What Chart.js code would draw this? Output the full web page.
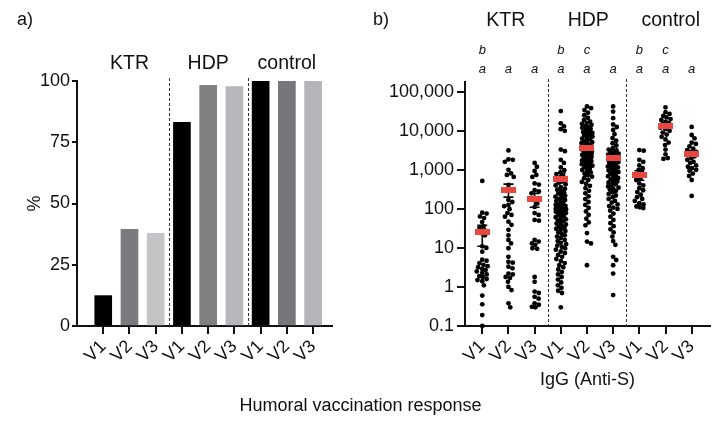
<!DOCTYPE html>
<html>
<head>
<meta charset="utf-8">
<script src="https://cdn.jsdelivr.net/npm/chart.js@4.4.1/dist/chart.umd.min.js"></script>
<style>
  body { margin: 0; background: #fff; font-family: "Liberation Sans", Arial, sans-serif; }
  #wrap { position: relative; width: 721px; height: 426px; overflow: hidden; }
  .box { position: absolute; top: 0; height: 426px; }
  .lbl { position: absolute; font-size: 18px; color: #111; line-height: 21px; white-space: nowrap; }
</style>
</head>
<body>
<div id="wrap">
  <div class="box" style="left:0;width:360px"><canvas id="pctChart"></canvas></div>
  <div class="box" style="left:360px;width:361px"><canvas id="iggChart"></canvas></div>
  <div class="lbl" style="left:17px;top:9px">a)</div>
  <div class="lbl" style="left:373px;top:9px">b)</div>
  <div class="lbl" style="left:0;width:721px;top:395px;text-align:center">Humoral vaccination response</div>
</div>
<script>
// categories
const visits = ['V1', 'V2', 'V3'];
const cohorts = ['KTR', 'HDP', 'control'];

// panel a: % responders
const responsePct = [12.4, 39.5, 37.8, 83.1, 98.2, 97.7, 100, 100, 100];
const pctTicks = [0, 25, 50, 75, 100];

// panel b: IgG (Anti-S) per subject
const ktrV1 = [520, 80, 76, 64, 58, 46, 36, 33, 28, 24, 21, 11, 10, 8, 5, 4.7, 4.1, 3.7, 3.4, 3.2, 2.9, 2.7, 2.5, 2.3, 2.1, 1.9, 1.8, 1.6, 1.5, 1.4, 1.1, 0.6, 0.36, 0.19, 0.1];
const ktrV2 = [3150, 1860, 1800, 1600, 1000, 810, 740, 660, 410, 300, 170, 150, 126, 117, 98, 78, 70, 63, 47, 39, 29, 21, 16, 13, 9.8, 5.9, 4.4, 4.2, 3.3, 3.0, 2.2, 2.1, 1.8, 1.7, 1.35, 1.0, 0.83, 0.38, 0.3];
const ktrV3 = [1500, 1200, 940, 740, 660, 450, 420, 300, 280, 250, 170, 138, 112, 78, 70, 52, 50, 16, 14.5, 13, 12, 9.8, 9.5, 1.8, 1.35, 0.76, 0.7, 0.56, 0.5, 0.38, 0.35, 0.31, 0.3];
const hdpV1 = [32000, 15500, 13000, 11000, 10000, 3300, 3000, 1800, 1500, 1150, 980, 860, 780, 700, 640,
  580, 530, 470, 430, 400, 360, 330, 310,
  290, 265, 250, 232, 218, 205, 192, 181, 170, 158, 150, 141, 133, 127, 120, 114, 109, 104, 101, 98,
  95, 92, 88, 85, 81, 78, 74, 71, 67, 64, 61, 57, 54, 51, 48, 45, 42, 40, 37, 35, 33, 31,
  29, 27, 25, 23, 21, 19.5, 18, 16, 15, 13.5, 12.5, 11.5, 10.5, 9.7,
  9, 8.1, 7.4, 6.6, 5.9, 5.2, 4.6, 4.1, 3.6, 3.2,
  2.8, 2.4, 2.1, 1.8, 1.55, 1.3, 1.1, 0.95, 0.8, 0.7, 0.3];
const hdpV2 = [42000, 38000, 34000, 29000, 25000, 21500, 19000, 17200,
  16000, 15100, 14200, 13300, 12600, 11900, 11200, 10500,
  9800, 9300, 8800, 8400, 7900, 7500, 7100, 6700, 6300, 6000, 5700, 5400, 5100, 4850, 4600, 4400, 4200, 4000, 3850, 3700, 3550, 3420, 3300, 3180, 3060,
  2950, 2830, 2720, 2610, 2500, 2400, 2310, 2220, 2130, 2040, 1960, 1880, 1800, 1730, 1660, 1590, 1520, 1460, 1400, 1340, 1280, 1220, 1170, 1110, 1050,
  990, 920, 860, 790, 730, 670, 610, 550, 490, 440, 390, 340,
  290, 250, 210, 178, 150, 126, 106,
  86, 70, 56, 45, 38, 24, 14.5, 13, 3.6];
const hdpV3 = [42000, 31000, 21000, 14500, 12500, 10500, 8200, 6500, 5600, 4800, 4200, 3600,
  3300, 3150, 3000, 2850, 2700, 2580, 2460, 2340, 2220, 2110, 2000, 1910, 1820, 1730, 1650, 1570, 1490, 1420, 1350, 1280, 1210, 1150, 1090, 1040, 1000,
  960, 920, 880, 840, 800, 760, 720, 690, 650, 620, 590, 560, 530, 500, 475, 450, 425, 400, 375, 350, 330, 310,
  290, 265, 240, 220, 200, 180, 160, 145, 130, 118, 108, 100,
  90, 76, 63, 52, 43, 36, 30,
  25, 19.5, 15, 12, 5.9, 4.9, 3.6, 2.2, 0.62];
const ctrlV1 = [3200, 3100, 1800, 1600, 1300, 1100, 1000, 850, 750, 600, 550, 450, 400, 340, 300, 270, 230, 200, 180, 160, 140, 130, 115, 110, 105];
const ctrlV2 = [40000, 30000, 27000, 24000, 22000, 20000, 19000, 17000, 16000, 15000, 14000, 13000, 12000, 11000, 10000, 9000, 8000, 7000, 6000, 5000, 4300, 3300, 2500, 2000, 1900];
const ctrlV3 = [12600, 7800, 6400, 5000, 4600, 4000, 3500, 3200, 2900, 2700, 2400, 2200, 2000, 1800, 1600, 1500, 1300, 1200, 1100, 1000, 950, 800, 700, 550, 215];

const meanIgG = [25, 310, 180, 600, 3550, 2000, 720, 13500, 2600];
const semLow  = [11, 200, 110, 460, 3150, 1700, 540, 11800, 2200];
const semHigh = [38, 430, 250, 830, 4000, 2350, 950, 15500, 3100];
const iggTicks = [0.1, 1, 10, 100, 1000, 10000, 100000];
const iggTickLabels = ['0.1', '1', '10', '100', '1,000', '10,000', '100,000'];
const letterTop = ['b', '', '', 'b', 'c', '', 'b', 'c', ''];
const letterBottom = ['a', 'a', 'a', 'a', 'a', 'a', 'a', 'a', 'a'];

const allGroups = [ktrV1, ktrV2, ktrV3, hdpV1, hdpV2, hdpV3, ctrlV1, ctrlV2, ctrlV3];
const catPos = [1, 2, 3, 4, 5, 6, 7, 8, 9];

Chart.defaults.font.family = '"Liberation Sans", Arial, sans-serif';
Chart.defaults.color = '#111';

const ink = '#111';
const barColors = ['#000000', '#7b7a7f', '#c4c4c6', '#000000', '#808080', '#b6b6bb', '#000000', '#77767b', '#b4b4b9'];

const axisGrid = (len) => ({ display: true, drawOnChartArea: false, drawTicks: true, tickLength: len, color: ink, lineWidth: 2, offset: false });
const axisBorder = { display: true, color: ink, width: 2 };

// dashed separators + cohort names
function decorPlugin(labelY, labelX) {
  return {
    id: 'decor',
    afterDraw(chart) {
      const { ctx, chartArea, scales: { x } } = chart;
      ctx.save();
      ctx.strokeStyle = '#333';
      ctx.lineWidth = 1;
      ctx.setLineDash([3, 2]);
      [3.5, 6.5].forEach(v => {
        const px = Math.round(x.getPixelForValue(v)) + 0.5;
        ctx.beginPath();
        ctx.moveTo(px, chartArea.top - 3);
        ctx.lineTo(px, chartArea.bottom);
        ctx.stroke();
      });
      ctx.setLineDash([]);
      ctx.fillStyle = ink;
      ctx.font = '19.5px "Liberation Sans", Arial, sans-serif';
      ctx.textAlign = 'center';
      ctx.textBaseline = 'middle';
      cohorts.forEach((c, i) => ctx.fillText(c, x.getPixelForValue(labelX[i]), labelY));
      ctx.restore();
    }
  };
}

new Chart(document.getElementById('pctChart'), {
  type: 'bar',
  data: {
    datasets: [{
      data: responsePct.map((v, i) => ({ x: catPos[i], y: v })),
      backgroundColor: barColors,
      barThickness: 17
    }]
  },
  options: {
    responsive: true,
    maintainAspectRatio: false,
    animation: false,
    layout: { padding: { left: 24, right: 28, top: 81, bottom: 30 } },
    plugins: { legend: { display: false }, tooltip: { enabled: false } },
    scales: {
      x: {
        type: 'linear', min: 0, max: 9.72, offset: false,
        afterBuildTicks: s => { s.ticks = catPos.map(v => ({ value: v })); },
        afterFit: s => { s.height = 70; },
        ticks: { autoSkip: false, minRotation: 45, maxRotation: 45, padding: 2, font: { size: 18 },
                 callback: v => visits[(Math.round(v) - 1) % 3] },
        grid: axisGrid(8),
        border: axisBorder
      },
      y: {
        min: 0, max: 100,
        afterBuildTicks: s => { s.ticks = pctTicks.map(v => ({ value: v })); },
        afterFit: s => { s.width = 53; },
        title: { display: true, text: '%', font: { size: 18 }, padding: 0 },
        ticks: { padding: 2, font: { size: 18 } },
        grid: axisGrid(5),
        border: axisBorder
      }
    }
  },
  plugins: [decorPlugin(64, [2, 5, 8])]
});

// red mean marker
const meanMark = document.createElement('canvas');
meanMark.width = 15; meanMark.height = 6;
const mctx = meanMark.getContext('2d');
mctx.fillStyle = '#e8463e';
mctx.fillRect(0, 0, 15, 6);

const letterPlugin = {
  id: 'letters',
  afterDraw(chart) {
    const { ctx, scales: { x } } = chart;
    ctx.save();
    ctx.fillStyle = ink;
    ctx.font = 'italic 13px "Liberation Sans", Arial, sans-serif';
    ctx.textAlign = 'center';
    ctx.textBaseline = 'middle';
    catPos.forEach((c, i) => {
      const px = x.getPixelForValue(c);
      if (letterTop[i]) ctx.fillText(letterTop[i], px, 50);
      ctx.fillText(letterBottom[i], px, 69);
    });
    ctx.restore();
  }
};

const errorBarPlugin = {
  id: 'semBars',
  afterDatasetDraw(chart, args) {
    if (args.index !== 1) return;
    const { ctx, scales: { x, y } } = chart;
    ctx.save();
    ctx.strokeStyle = '#000';
    ctx.lineWidth = 1.6;
    catPos.forEach((c, i) => {
      const px = x.getPixelForValue(c);
      const lo = y.getPixelForValue(semLow[i]);
      const hi = y.getPixelForValue(semHigh[i]);
      ctx.beginPath();
      ctx.moveTo(px, lo); ctx.lineTo(px, hi);
      ctx.moveTo(px - 5, lo); ctx.lineTo(px + 5, lo);
      ctx.moveTo(px - 5, hi); ctx.lineTo(px + 5, hi);
      ctx.stroke();
    });
    ctx.restore();
  }
};

const buildDots = (offsets) => {
  const pts = [];
  allGroups.forEach((vals, g) => vals.forEach((v, k) => pts.push({ x: catPos[g] + (offsets ? offsets[g][k] : 0), y: v })));
  return pts;
};

const iggChart = new Chart(document.getElementById('iggChart'), {
  type: 'scatter',
  data: {
    datasets: [
      {
        data: meanIgG.map((v, i) => ({ x: catPos[i], y: v })),
        pointStyle: meanMark,
        clip: false
      },
      {
        data: buildDots(null),
        pointRadius: 2.4,
        pointBorderWidth: 0,
        backgroundColor: '#000',
        borderColor: '#000',
        clip: false
      }
    ]
  },
  options: {
    responsive: true,
    maintainAspectRatio: false,
    animation: false,
    layout: { padding: { left: 0, right: 11, top: 82, bottom: 35 } },
    plugins: { legend: { display: false }, tooltip: { enabled: false } },
    scales: {
      x: {
        type: 'linear', min: 0.34, max: 9.7,
        afterBuildTicks: s => { s.ticks = catPos.map(v => ({ value: v })); },
        afterFit: s => { s.height = 65; },
        title: { display: true, text: 'IgG (Anti-S)', font: { size: 18 }, padding: 0 },
        ticks: { autoSkip: false, minRotation: 45, maxRotation: 45, padding: 2, font: { size: 18 },
                 callback: v => visits[(Math.round(v) - 1) % 3] },
        grid: axisGrid(8),
        border: axisBorder
      },
      y: {
        type: 'logarithmic', min: 0.1, max: 177828,
        afterBuildTicks: s => { s.ticks = iggTicks.map(v => ({ value: v })); },
        afterFit: s => { s.width = 105; },
        ticks: { padding: 3, font: { size: 18 },
                 callback: (v, i) => iggTickLabels[i] },
        grid: axisGrid(8),
        border: axisBorder
      }
    }
  },
  plugins: [decorPlugin(21, [1.9, 5.05, 8.2]), letterPlugin, errorBarPlugin]
});

// beeswarm spread: place each dot as close to the column centre as possible,
// letting dots overlap more where the column would grow wider than `cap` px
function swarm(yPix, d, cap) {
  const order = yPix.map((y, i) => i).sort((a, b) => yPix[a] - yPix[b]);
  const placed = [];
  const out = new Array(yPix.length).fill(0);
  order.forEach(i => {
    const y = yPix[i];
    let x = 0;
    for (const dd of [d, d * 0.8, d * 0.6, d * 0.45, d * 0.3]) {
      const near = placed.filter(p => Math.abs(p.y - y) < dd);
      const cands = [0];
      near.forEach(p => {
        const dx = Math.sqrt(dd * dd - (p.y - y) * (p.y - y));
        cands.push(p.x + dx, p.x - dx);
      });
      cands.sort((a, b) => Math.abs(a) - Math.abs(b));
      const hit = cands.find(c => Math.abs(c) <= cap && near.every(p => (p.x - c) ** 2 + (p.y - y) ** 2 >= dd * dd - 0.01));
      if (hit !== undefined) { x = hit; break; }
    }
    placed.push({ x, y });
    out[i] = x;
  });
  return out;
}

const xs = iggChart.scales.x, ys = iggChart.scales.y;
const unit = xs.getPixelForValue(1) - xs.getPixelForValue(0);
const offsets = allGroups.map(vals => swarm(vals.map(v => ys.getPixelForValue(v)), 4.4, 5.5).map(o => o / unit));
iggChart.data.datasets[1].data = buildDots(offsets);
iggChart.update('none');
</script>
</body>
</html>
